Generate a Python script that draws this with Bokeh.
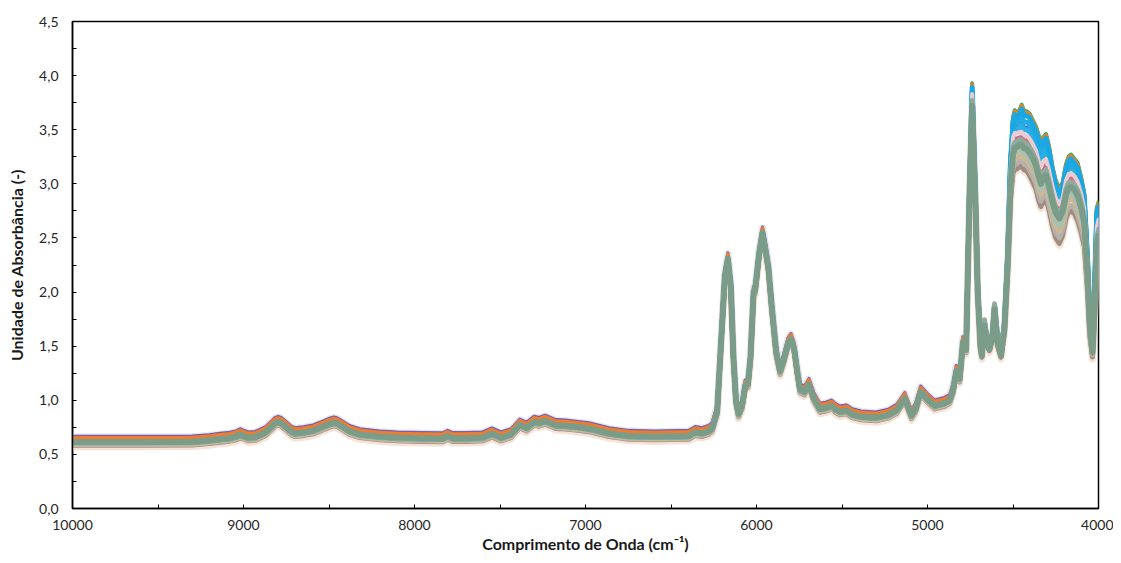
import numpy as np
from bokeh.plotting import figure
from bokeh.models import Range1d, FixedTicker, CustomJSTickFormatter
from bokeh.embed import file_html
from bokeh.resources import INLINE

# ---------------- data ----------------
# shared part of the spectra (reference = grey-green spectrum)
wn_low = [10000, 9600, 9300, 9200, 9150, 9080, 9040, 9020, 9000, 8972, 8930, 8870,
          8830, 8815, 8797, 8780, 8760, 8720, 8700, 8650, 8593, 8530, 8500, 8472,
          8450, 8430, 8380, 8321, 8204, 8100, 7950, 7835, 7806, 7777, 7700, 7602,
          7547, 7495, 7436, 7384, 7345, 7300, 7271, 7236, 7174, 7116, 7057, 6980,
          6863, 6746, 6600, 6397, 6358, 6319, 6280, 6260, 6230, 6205, 6185, 6167,
          6150, 6135, 6120, 6105, 6085, 6066, 6050, 6035, 6017, 6008, 5985, 5965,
          5948, 5930, 5910, 5885, 5862, 5840, 5815, 5798, 5780, 5760, 5745, 5720,
          5693, 5665, 5629, 5595, 5561, 5535, 5512, 5473, 5440, 5388, 5300, 5230,
          5180, 5133, 5094, 5070, 5040, 5000, 4958, 4900, 4871, 4850, 4832, 4812,
          4793, 4774]
base_low = [0.615, 0.615, 0.617, 0.630, 0.640, 0.652, 0.668, 0.685, 0.672, 0.655, 0.660, 0.705,
            0.765, 0.790, 0.800, 0.790, 0.765, 0.710, 0.695, 0.703, 0.720, 0.760, 0.780, 0.795,
            0.785, 0.765, 0.715, 0.685, 0.665, 0.655, 0.650, 0.647, 0.670, 0.650, 0.650, 0.655,
            0.692, 0.655, 0.685, 0.775, 0.745, 0.800, 0.790, 0.810, 0.770, 0.765, 0.755, 0.740,
            0.695, 0.670, 0.665, 0.670, 0.705, 0.695, 0.715, 0.740, 0.900, 1.600, 2.150, 2.310,
            2.050, 1.400, 1.000, 0.875, 0.950, 1.135, 1.150, 1.400, 2.000, 2.020, 2.350, 2.550,
            2.400, 2.220, 1.850, 1.450, 1.270, 1.380, 1.530, 1.565, 1.480, 1.250, 1.100, 1.080,
            1.150, 1.020, 0.920, 0.930, 0.950, 0.915, 0.895, 0.905, 0.870, 0.850, 0.840, 0.865,
            0.910, 1.020, 0.860, 0.920, 1.080, 1.010, 0.950, 0.975, 1.000, 1.100, 1.270, 1.200,
            1.535, 1.470]

# combination-band region where the spectra separate into groups
wn_band = [4754, 4739, 4721, 4706, 4690, 4682, 4667, 4652, 4638, 4620, 4608, 4590,
           4570, 4550, 4531, 4515, 4500, 4490, 4475, 4460, 4449, 4435, 4420, 4404,
           4385, 4366, 4350, 4337, 4322, 4307, 4290, 4268, 4250, 4229, 4210, 4190,
           4175, 4161, 4140, 4122, 4100, 4083, 4064, 4050, 4035, 4020, 4010, 4000]
band_top = [2.95, 3.90, 2.95, 2.02, 1.52, 1.43, 1.72, 1.54, 1.49, 1.60, 1.86, 1.54,
            1.43, 1.72, 2.35, 3.20, 3.58, 3.65, 3.62, 3.66, 3.70, 3.64, 3.64, 3.62,
            3.56, 3.50, 3.42, 3.36, 3.40, 3.43, 3.32, 3.12, 3.00, 2.92, 2.98, 3.15,
            3.22, 3.24, 3.20, 3.16, 3.02, 2.88, 2.30, 1.75, 1.50, 2.20, 2.75, 2.80]
band_blue1 = [2.94, 3.86, 2.94, 2.01, 1.51, 1.43, 1.72, 1.54, 1.49, 1.60, 1.86, 1.54,
              1.43, 1.71, 2.34, 3.15, 3.52, 3.59, 3.56, 3.59, 3.62, 3.57, 3.57, 3.55,
              3.49, 3.43, 3.35, 3.29, 3.34, 3.37, 3.26, 3.07, 2.95, 2.88, 2.94, 3.10,
              3.17, 3.19, 3.15, 3.11, 2.97, 2.84, 2.27, 1.74, 1.49, 2.16, 2.70, 2.75]
band_blue2 = [2.92, 3.80, 2.92, 2.00, 1.50, 1.42, 1.71, 1.53, 1.48, 1.59, 1.85, 1.53,
              1.42, 1.70, 2.32, 3.10, 3.46, 3.52, 3.50, 3.52, 3.54, 3.50, 3.50, 3.48,
              3.42, 3.36, 3.28, 3.22, 3.27, 3.30, 3.19, 3.01, 2.90, 2.83, 2.89, 3.05,
              3.12, 3.14, 3.10, 3.06, 2.92, 2.79, 2.24, 1.72, 1.48, 2.12, 2.65, 2.70]
band_pink = [2.92, 3.78, 2.92, 2.00, 1.50, 1.42, 1.70, 1.53, 1.48, 1.59, 1.85, 1.53,
             1.42, 1.68, 2.30, 3.05, 3.38, 3.42, 3.42, 3.43, 3.43, 3.40, 3.40, 3.37,
             3.32, 3.26, 3.16, 3.10, 3.16, 3.18, 3.08, 2.92, 2.82, 2.76, 2.82, 2.98,
             3.04, 3.05, 3.02, 2.97, 2.85, 2.72, 2.20, 1.70, 1.46, 2.05, 2.55, 2.62]
band_mid = [2.90, 3.72, 2.90, 1.98, 1.49, 1.41, 1.69, 1.52, 1.47, 1.58, 1.84, 1.52,
            1.41, 1.66, 2.25, 2.95, 3.28, 3.33, 3.34, 3.36, 3.36, 3.33, 3.32, 3.29,
            3.24, 3.17, 3.07, 3.00, 3.06, 3.08, 2.98, 2.83, 2.73, 2.68, 2.74, 2.90,
            2.96, 2.97, 2.94, 2.89, 2.77, 2.64, 2.15, 1.66, 1.44, 1.95, 2.45, 2.52]
band_tan = [2.89, 3.67, 2.89, 1.97, 1.48, 1.40, 1.68, 1.51, 1.46, 1.57, 1.83, 1.51,
            1.40, 1.65, 2.22, 2.90, 3.19, 3.23, 3.24, 3.26, 3.26, 3.23, 3.22, 3.18,
            3.13, 3.06, 2.96, 2.90, 2.95, 2.97, 2.87, 2.71, 2.61, 2.56, 2.63, 2.79,
            2.85, 2.86, 2.83, 2.77, 2.65, 2.53, 2.07, 1.62, 1.42, 1.90, 2.38, 2.45]
band_low = [2.88, 3.62, 2.88, 1.96, 1.48, 1.40, 1.68, 1.51, 1.46, 1.57, 1.83, 1.51,
            1.40, 1.64, 2.20, 2.85, 3.10, 3.13, 3.14, 3.16, 3.16, 3.13, 3.12, 3.08,
            3.02, 2.95, 2.85, 2.79, 2.84, 2.86, 2.76, 2.60, 2.50, 2.45, 2.52, 2.68,
            2.74, 2.75, 2.72, 2.66, 2.54, 2.42, 2.00, 1.58, 1.40, 1.85, 2.30, 2.38]

# samples: baseline shift (shared region), band group, shift inside the band
sample_names = ["s01", "s02", "s03", "s04", "s05", "s06", "s07", "s08", "s09",
                "s10", "s11", "s12", "s13", "s14", "s15", "s16", "s17", "s18"]
sample_shift = [0.045, -0.045, -0.030, -0.025, -0.020, -0.010, 0.052, 0.010, -0.005,
                0.036, -0.005, -0.005, -0.005, -0.005, 0.000, 0.000, -0.010, 0.000]
sample_group = ["pink", "low", "low", "low", "tan", "tan", "pink", "pink", "top",
                "top", "blue2", "blue2", "blue1", "top", "pink", "pink", "mid", "mid"]
sample_band_shift = [0.00, -0.02, 0.00, 0.05, 0.00, 0.05, -0.02, 0.00, 0.03,
                     0.02, 0.02, 0.00, 0.00, -0.01, 0.05, -0.03, 0.05, 0.00]

assert len(wn_low) == len(base_low), (len(wn_low), len(base_low))
groups = {"top": band_top, "blue1": band_blue1, "blue2": band_blue2, "pink": band_pink,
          "mid": band_mid, "tan": band_tan, "low": band_low}
for k, arr in groups.items():
    assert len(arr) == len(wn_band), (k, len(arr), len(wn_band))

# ---------------- styles ----------------
colors = ["#e1e5f5", "#f5e3d7", "#a08b80", "#b5b0ac", "#cbb894", "#a9bfb0",
          "#7b5ea7", "#e0637c", "#00b050", "#ed7d31", "#4472c4", "#2bb0e6",
          "#22abe4", "#1aa8e2", "#e9cdd3", "#c05a8c", "#8fab9b", "#7a9c89"]
widths = [7, 7, 5, 5, 5, 5, 3, 4, 4, 4, 4, 5, 5, 5, 4, 3, 5, 6]

p = figure(width=1113, height=555,
           x_range=Range1d(10000, 4000), y_range=Range1d(0, 4.5),
           output_backend="svg", toolbar_location=None,
           min_border_left=72, min_border_right=15, min_border_top=21, min_border_bottom=47)

x_all = np.array(wn_low + wn_band, dtype=float)
for i, name in enumerate(sample_names):
    y_low = np.array(base_low) + sample_shift[i]
    y_band = np.array(groups[sample_group[i]]) + sample_band_shift[i]
    y_all = np.concatenate([y_low, y_band])
    p.line(x_all, y_all, line_color=colors[i], line_width=widths[i],
           line_cap="round", line_join="round")

p.xgrid.visible = False
p.ygrid.visible = False
p.background_fill_color = "white"
p.border_fill_color = "white"
p.outline_line_color = "black"
p.outline_line_width = 1.5

p.xaxis.ticker = FixedTicker(ticks=[10000, 9000, 8000, 7000, 6000, 5000, 4000],
                             minor_ticks=[9500, 8500, 7500, 6500, 5500, 4500])
p.xaxis.formatter = CustomJSTickFormatter(code="return tick.toFixed(0);")
p.yaxis.ticker = FixedTicker(ticks=[0, 0.5, 1.0, 1.5, 2.0, 2.5, 3.0, 3.5, 4.0, 4.5],
                             minor_ticks=[0.25, 0.75, 1.25, 1.75, 2.25, 2.75, 3.25, 3.75, 4.25])
p.yaxis.formatter = CustomJSTickFormatter(code="return tick.toFixed(1).replace('.', ',');")

for ax in (p.xaxis[0], p.yaxis[0]):
    ax.axis_line_color = "black"
    ax.axis_line_width = 1.5
    ax.major_tick_in = 4
    ax.major_tick_out = 0
    ax.minor_tick_in = 4
    ax.minor_tick_out = 0
    ax.major_tick_line_color = "black"
    ax.minor_tick_line_color = "black"
    ax.major_tick_line_width = 1
    ax.minor_tick_line_width = 1
    ax.major_label_text_font = "Lato"
    ax.major_label_text_font_size = "14px"
    ax.major_label_text_color = "#262626"
    ax.axis_label_text_font = "Lato"
    ax.axis_label_text_font_size = "16px"
    ax.axis_label_text_font_style = "bold"
    ax.axis_label_text_color = "#1a1a1a"

p.xaxis.axis_label = "Comprimento de Onda (cm\u207b\u00b9)"
p.yaxis.axis_label = "Unidade de Absorbância (-)"
p.xaxis.major_label_standoff = 11
p.xaxis.axis_label_standoff = 1
p.yaxis.major_label_standoff = 14
p.yaxis.axis_label_standoff = 10

open("out.html", "w").write(file_html(p, INLINE))
